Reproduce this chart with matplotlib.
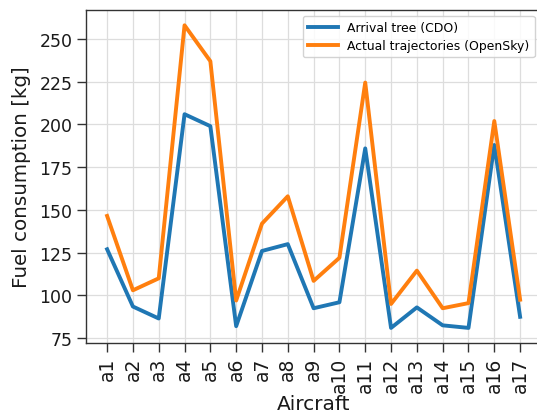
import matplotlib
matplotlib.use("Agg")
import matplotlib.pyplot as plt

aircraft = [f"a{i}" for i in range(1, 18)]
arrival_tree = [127, 93.5, 86.5, 206, 199, 82, 126, 130, 92.5, 96, 186, 81, 93, 82.5, 81, 188, 87.5]
actual_traj = [146.5, 103, 110, 258, 237, 97, 142, 158, 108.5, 122, 224.5, 95, 114.5, 92.5, 95.5, 202, 97.5]

fig = plt.figure(figsize=(5.37, 4.14), dpi=100)
ax = fig.add_axes([0.161, 0.169, 0.846, 0.804])

x = range(len(aircraft))
ax.plot(x, arrival_tree, color="#1f77b4", lw=2.8, label="Arrival tree (CDO)")
ax.plot(x, actual_traj, color="#ff7f0e", lw=2.8, label="Actual trajectories (OpenSky)")

ax.set_xticks(list(x))
ax.set_xticklabels(aircraft, rotation=90)
ax.set_yticks([75, 100, 125, 150, 175, 200, 225, 250])
ax.tick_params(axis="both", length=6.5, width=1, color="#333333", labelcolor="#1a1a1a")
ax.tick_params(axis="y", labelsize=12.5)
ax.tick_params(axis="x", labelsize=13.5)
ax.grid(True, color="#dddddd", lw=0.9)
ax.set_axisbelow(True)
for s in ax.spines.values():
    s.set_color("#333333")
    s.set_linewidth(1.0)

ax.set_xlabel("Aircraft", fontsize=14.5, color="#1a1a1a", labelpad=1)
ax.set_ylabel("Fuel consumption [kg]", fontsize=14.3, color="#1a1a1a", labelpad=6)

ax.legend(loc="upper right", fontsize=8.9, handlelength=2.4, framealpha=0.85,
          bbox_to_anchor=(0.992, 0.99), borderaxespad=0.2, labelspacing=0.45)

fig.savefig("out.png", dpi=100)
